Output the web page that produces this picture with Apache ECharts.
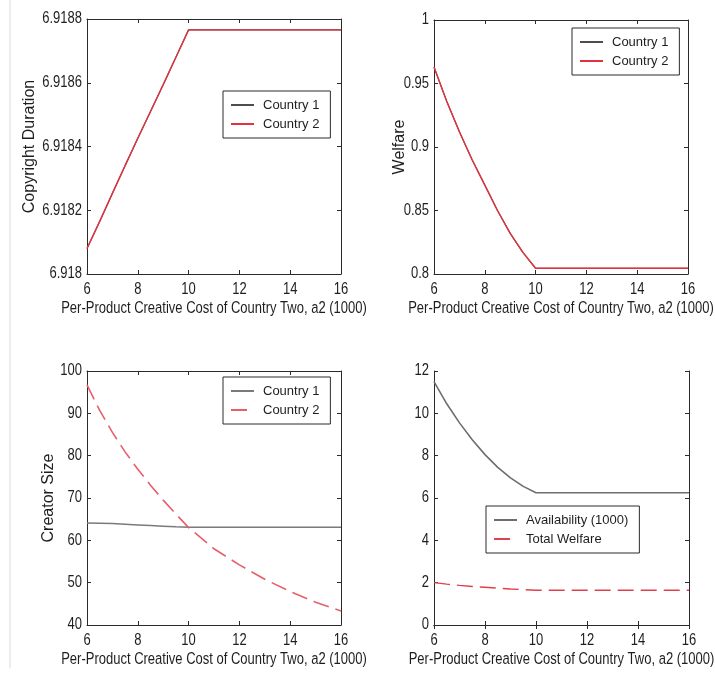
<!DOCTYPE html>
<html>
<head>
<meta charset="utf-8">
<script src="https://cdn.jsdelivr.net/npm/echarts@6/dist/echarts.min.js"></script>
<style>
  html, body { margin: 0; padding: 0; background: #fff; }
  #chart { width: 715px; height: 677px; }
</style>
</head>
<body>
<div id="chart"></div>
<script>
// Per-product creative cost of country two, a2 (1000)
const costA2 = [6, 6.5, 7, 7.5, 8, 8.5, 9, 9.5, 10, 11, 12, 13, 14, 15, 16];

// Copyright duration
const durationCountry1 = [6.91808, 6.918165, 6.918253, 6.91834, 6.918426, 6.91851, 6.918594, 6.91868, 6.918766, 6.918766, 6.918766, 6.918766, 6.918766, 6.918766, 6.918766];
const durationCountry2 = [6.91808, 6.918165, 6.918253, 6.91834, 6.918426, 6.91851, 6.918594, 6.91868, 6.918766, 6.918766, 6.918766, 6.918766, 6.918766, 6.918766, 6.918766];

// Welfare
const welfareCountry1 = [0.963, 0.936, 0.912, 0.890, 0.870, 0.850, 0.832, 0.817, 0.8045, 0.8045, 0.8045, 0.8045, 0.8045, 0.8045, 0.8045];
const welfareCountry2 = [0.963, 0.936, 0.912, 0.890, 0.870, 0.850, 0.832, 0.817, 0.8045, 0.8045, 0.8045, 0.8045, 0.8045, 0.8045, 0.8045];

// Creator size
const creatorCountry1 = [64.1, 64.05, 63.95, 63.8, 63.65, 63.5, 63.35, 63.2, 63.1, 63.1, 63.1, 63.1, 63.1, 63.1, 63.1];
const creatorCountry2 = [96.7, 90.7, 85.5, 80.9, 76.8, 73.0, 69.5, 66.2, 63.0, 58.0, 54.2, 50.8, 47.9, 45.4, 43.3];

// Availability (1000) and total welfare
const availability = [11.5, 10.45, 9.55, 8.75, 8.05, 7.45, 6.95, 6.55, 6.25, 6.25, 6.25, 6.25, 6.25, 6.25, 6.25];
const totalWelfare = [2.0, 1.93, 1.87, 1.82, 1.78, 1.74, 1.70, 1.67, 1.64, 1.64, 1.64, 1.64, 1.64, 1.64, 1.64];

// Tick values
const xTicks = [6, 8, 10, 12, 14, 16];
const durationTicks = [6.918, 6.9182, 6.9184, 6.9186, 6.9188];
const welfareTicks = [0.8, 0.85, 0.9, 0.95, 1];
const creatorTicks = [40, 50, 60, 70, 80, 90, 100];
const availabilityTicks = [0, 2, 4, 6, 8, 10, 12];

const xTitle = 'Per-Product Creative Cost of Country Two, a2 (1000)';

const FAMILY = '"Liberation Sans", Arial, Helvetica, sans-serif';
const TEXT = '#1e1e1e';
const INK = '#2b2b2b';
const RED = '#e2323f';
const RED_DASH = '#e5606b';
// tall, narrow lettering for tick labels and x titles
const STRETCH = 1.25;

const grids = [
  { left: 87, top: 19, width: 254, height: 255 },
  { left: 434, top: 20, width: 254, height: 254 },
  { left: 87, top: 371, width: 254, height: 254 },
  { left: 434, top: 371, width: 255, height: 254 }
];

const panels = [
  { ticks: durationTicks, yName: 'Copyright Duration', yGap: 49 },
  { ticks: welfareTicks, yName: 'Welfare', yGap: 26 },
  { ticks: creatorTicks, yName: 'Creator Size', yGap: 30 },
  { ticks: availabilityTicks, yName: '', yGap: 30 }
];

const xAxes = [];
const yAxes = [];
panels.forEach(function (p, i) {
  const axisLine = { show: true, lineStyle: { color: INK, width: 1 } };
  const axisTick = { show: true, inside: true, length: 4, lineStyle: { color: INK } };
  const xMin = xTicks[0], xMax = xTicks[xTicks.length - 1], xStep = xTicks[1] - xTicks[0];
  ['bottom', 'top'].forEach(function (pos) {
    xAxes.push({
      gridIndex: i, type: 'value', position: pos,
      min: xMin, max: xMax, interval: xStep,
      axisLine: axisLine, axisTick: axisTick, splitLine: { show: false },
      axisLabel: { show: false }
    });
  });
  const t = p.ticks;
  const step = t[1] - t[0];
  yAxes.push({
    gridIndex: i, type: 'value', position: 'left',
    min: t[0], max: t[t.length - 1], interval: step,
    axisLine: axisLine, axisTick: axisTick, splitLine: { show: false },
    axisLabel: { show: false },
    name: p.yName, nameLocation: 'middle', nameRotate: 90, nameGap: p.yGap,
    nameTextStyle: { color: TEXT, fontFamily: FAMILY, fontSize: 16 }
  });
  yAxes.push({
    gridIndex: i, type: 'value', position: 'right',
    min: t[0], max: t[t.length - 1], interval: step,
    axisLine: axisLine, axisTick: axisTick, splitLine: { show: false },
    axisLabel: { show: false }
  });
});

function pairs(ys) { return costA2.map(function (x, k) { return [x, ys[k]]; }); }

function line(name, panel, ys, color, width, type) {
  return {
    name: name, type: 'line', xAxisIndex: panel * 2, yAxisIndex: panel * 2,
    data: pairs(ys), symbol: 'none', showSymbol: false, silent: true,
    lineStyle: { color: color, width: width, type: type },
    itemStyle: { color: color }, z: 3
  };
}

const series = [
  line('duration-c1', 0, durationCountry1, '#4d4d4d', 1.2, 'solid'),
  line('duration-c2', 0, durationCountry2, RED, 1.4, 'solid'),
  line('welfare-c1', 1, welfareCountry1, '#4d4d4d', 1.2, 'solid'),
  line('welfare-c2', 1, welfareCountry2, RED, 1.4, 'solid'),
  line('creator-c1', 2, creatorCountry1, '#7a7a7a', 1.5, 'solid'),
  line('creator-c2', 2, creatorCountry2, RED_DASH, 1.6, [16, 7]),
  line('availability', 3, availability, '#6e6e6e', 1.6, 'solid'),
  line('total-welfare', 3, totalWelfare, '#e0404c', 1.4, [16, 7])
];

const legendText = {
  'duration-c1': 'Country 1', 'duration-c2': 'Country 2',
  'welfare-c1': 'Country 1', 'welfare-c2': 'Country 2',
  'creator-c1': 'Country 1', 'creator-c2': 'Country 2',
  'availability': 'Availability (1000)', 'total-welfare': 'Total Welfare'
};

function legend(names, left, top) {
  return {
    data: names, left: left, top: top, orient: 'vertical',
    backgroundColor: '#fff', borderColor: INK, borderWidth: 1,
    padding: [6, 11, 6, 7], itemGap: 3, itemWidth: 23, itemHeight: 14,
    selectedMode: false,
    itemStyle: { opacity: 0 },
    textStyle: { color: TEXT, fontFamily: FAMILY, fontSize: 13, lineHeight: 16, padding: [0, 0, 0, 4] },
    formatter: function (n) { return legendText[n]; }
  };
}

const option = {
  animation: false,
  backgroundColor: '#fff',
  grid: grids,
  xAxis: xAxes,
  yAxis: yAxes,
  legend: [
    legend(['duration-c1', 'duration-c2'], 223, 91),
    legend(['welfare-c1', 'welfare-c2'], 572, 28),
    legend(['creator-c1', 'creator-c2'], 223, 377),
    legend(['availability', 'total-welfare'], 486, 506)
  ],
  series: series
};

const chart = echarts.init(document.getElementById('chart'), null, { renderer: 'canvas' });
chart.setOption(option);

// Tick labels and x titles, placed through the axes' own scales
function label(text, x, y, align, vAlign) {
  return {
    type: 'text', x: x, y: y, scaleY: STRETCH, silent: true, z: 10,
    style: {
      text: text, fill: TEXT, font: '13px ' + FAMILY,
      textAlign: align, textVerticalAlign: vAlign, align: align, verticalAlign: vAlign
    }
  };
}

const labels = [{
  type: 'line', shape: { x1: 10, y1: 0, x2: 10, y2: 668 },
  style: { stroke: '#d9d9d9', lineWidth: 1 }, silent: true
}];
panels.forEach(function (p, i) {
  const axisY = chart.convertToPixel({ yAxisIndex: i * 2 }, p.ticks[0]);
  const axisX = chart.convertToPixel({ xAxisIndex: i * 2 }, xTicks[0]);
  const xEnd = chart.convertToPixel({ xAxisIndex: i * 2 }, xTicks[xTicks.length - 1]);
  xTicks.forEach(function (v) {
    labels.push(label(String(v), chart.convertToPixel({ xAxisIndex: i * 2 }, v), axisY + 7.5, 'center', 'top'));
  });
  p.ticks.forEach(function (v) {
    labels.push(label(String(v), axisX - 5, chart.convertToPixel({ yAxisIndex: i * 2 }, v), 'right', 'middle'));
  });
  labels.push(label(xTitle, (axisX + xEnd) / 2, axisY + 26, 'center', 'top'));
});
chart.setOption({ graphic: labels });
</script>
</body>
</html>
